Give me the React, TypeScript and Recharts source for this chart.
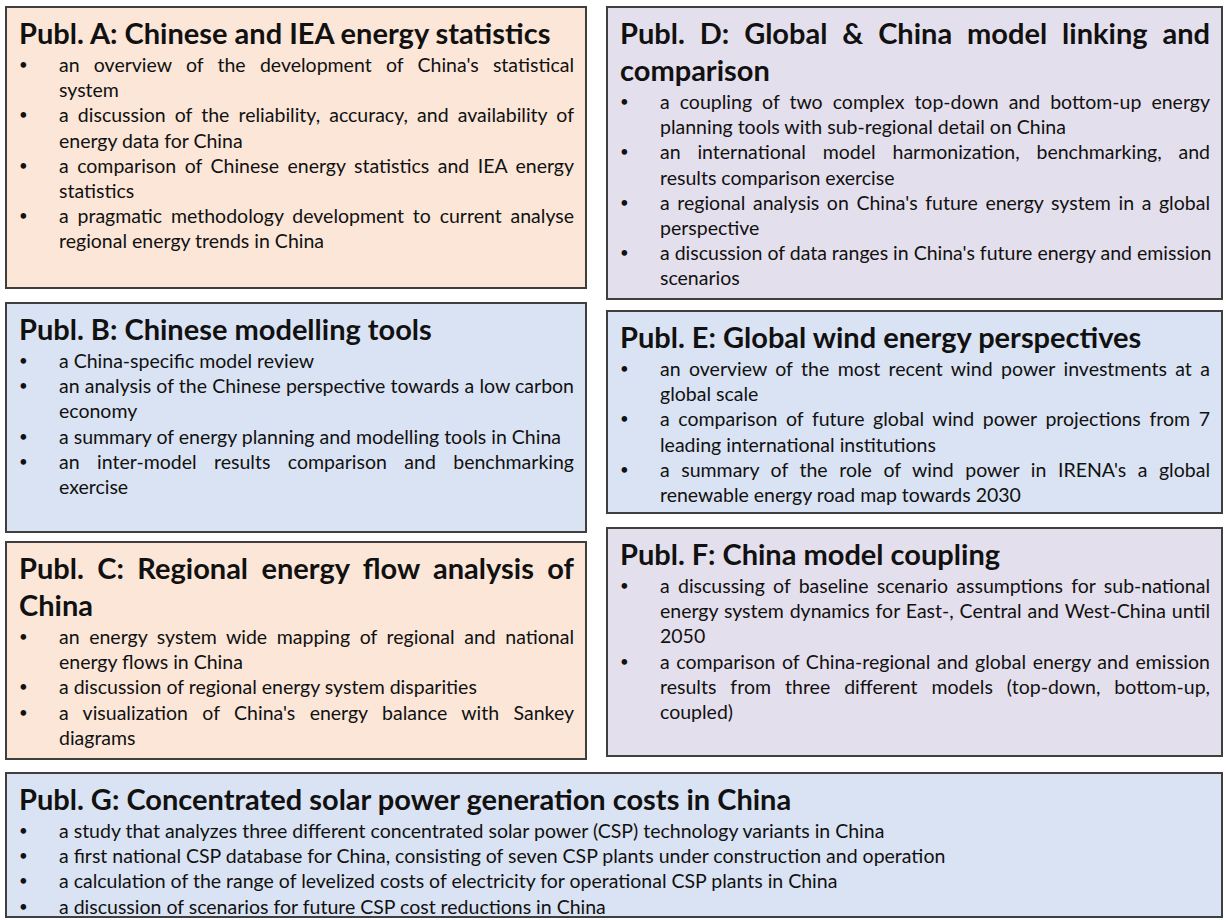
import React from 'react';
import { ComposedChart, XAxis, YAxis, ReferenceArea } from 'recharts';

// panel content, one entry per publication box
const panelKeys = ['A', 'B', 'C', 'D', 'E', 'F', 'G'];

const panelTitles: string[][] = [
  ['Publ. A: Chinese and IEA energy statistics'],
  ['Publ. B: Chinese modelling tools'],
  ['Publ. C: Regional energy flow analysis of', 'China'],
  ['Publ. D: Global & China model linking and', 'comparison'],
  ['Publ. E: Global wind energy perspectives'],
  ['Publ. F: China model coupling'],
  ['Publ. G: Concentrated solar power generation costs in China'],
];

// each bullet keeps the line breaks of the original
const panelBullets: string[][][] = [
  [
    ["an overview of the development of China's statistical", 'system'],
    ['a discussion of the reliability, accuracy, and availability of', 'energy data for China'],
    ['a comparison of Chinese energy statistics and IEA energy', 'statistics'],
    ['a pragmatic methodology development to current analyse', 'regional energy trends in China'],
  ],
  [
    ['a China-specific model review'],
    ['an analysis of the Chinese perspective towards a low carbon', 'economy'],
    ['a summary of energy planning and modelling tools in China'],
    ['an inter-model results comparison and benchmarking', 'exercise'],
  ],
  [
    ['an energy system wide mapping of regional and national', 'energy flows in China'],
    ['a discussion of regional energy system disparities'],
    ["a visualization of China's energy balance with Sankey", 'diagrams'],
  ],
  [
    ['a coupling of two complex top-down and bottom-up energy', 'planning tools with sub-regional detail on China'],
    ['an international model harmonization, benchmarking, and', 'results comparison exercise'],
    ["a regional analysis on China's future energy system in a global", 'perspective'],
    ["a discussion of data ranges in China's future energy and emission", 'scenarios'],
  ],
  [
    ['an overview of the most recent wind power investments at a', 'global scale'],
    ['a comparison of future global wind power projections from 7', 'leading international institutions'],
    ["a summary of the role of wind power in IRENA's a global", 'renewable energy road map towards 2030'],
  ],
  [
    [
      'a discussing of baseline scenario assumptions for sub-national',
      'energy system dynamics for East-, Central and West-China until',
      '2050',
    ],
    [
      'a comparison of China-regional and global energy and emission',
      'results from three different models (top-down, bottom-up,',
      'coupled)',
    ],
  ],
  [
    ['a study that analyzes three different concentrated solar power (CSP) technology variants in China'],
    ['a first national CSP database for China, consisting of seven CSP plants under construction and operation'],
    ['a calculation of the range of levelized costs of electricity for operational CSP plants in China'],
    ['a discussion of scenarios for future CSP cost reductions in China'],
  ],
];

// layout (page pixels) and fills, kept apart from the content
const frames = [
  { x1: 6, x2: 586, y1: 7, y2: 288 },
  { x1: 6, x2: 586, y1: 303, y2: 532 },
  { x1: 6, x2: 586, y1: 542, y2: 759 },
  { x1: 607, x2: 1222, y1: 7, y2: 299 },
  { x1: 607, x2: 1222, y1: 311, y2: 513 },
  { x1: 607, x2: 1222, y1: 528, y2: 756 },
  { x1: 6, x2: 1222, y1: 773, y2: 917 },
];

const PEACH = '#FBE6D8';
const BLUE = '#DAE3F3';
const LILAC = '#E4DFEC';
const panelFills = [PEACH, BLUE, PEACH, LILAC, BLUE, LILAC, BLUE];

const FONT = 'Lato, "Open Sans", sans-serif';
const BODY = 19.5;
const LINE = '25.2px';

function PanelText({ viewBox, panel }: { viewBox: any; panel: number }) {
  const { x, y, width, height } = viewBox;
  const title = panelTitles[panel];
  const bullets = panelBullets[panel];
  return (
    <foreignObject x={x} y={y} width={width} height={height}>
      <div
        style={{
          fontFamily: FONT,
          color: '#111',
          padding: '7px 12px 0 13px',
          boxSizing: 'border-box',
          width: '100%',
        }}
      >
        {title.map((t, i) => (
          <div
            key={i}
            style={{
              fontSize: 29,
              fontWeight: 700,
              lineHeight: '37px',
              whiteSpace: 'nowrap',
              textAlign: 'justify',
              textAlignLast: i < title.length - 1 ? 'justify' : 'left',
            }}
          >
            {t}
          </div>
        ))}
        <div style={{ marginTop: 1 }}>
          {bullets.map((lines, b) => (
            <div key={b} style={{ position: 'relative', paddingLeft: 40 }}>
              <span
                style={{ position: 'absolute', left: 0, top: 0, fontSize: 15, lineHeight: LINE }}
              >
                •
              </span>
              {lines.map((ln, j) => (
                <div
                  key={j}
                  style={{
                    fontSize: BODY,
                    lineHeight: LINE,
                    whiteSpace: 'nowrap',
                    textAlign: 'justify',
                    textAlignLast: j < lines.length - 1 ? 'justify' : 'left',
                  }}
                >
                  {ln}
                </div>
              ))}
            </div>
          ))}
        </div>
      </div>
    </foreignObject>
  );
}

export default function App() {
  return (
    <div style={{ position: 'absolute', left: 0, top: 0, width: 1226, height: 920, background: '#fff' }}>
      <ComposedChart width={1226} height={920} data={[]} margin={{ top: 0, right: 0, bottom: 0, left: 0 }}>
        <XAxis type="number" dataKey="x" domain={[0, 1226]} allowDataOverflow hide />
        <YAxis type="number" dataKey="y" domain={[0, 920]} allowDataOverflow reversed hide />
        {panelKeys.map((k, i) => (
          <ReferenceArea
            key={k}
            x1={frames[i].x1}
            x2={frames[i].x2}
            y1={frames[i].y1}
            y2={frames[i].y2}
            fill={panelFills[i]}
            fillOpacity={1}
            stroke="#3F3F3F"
            strokeWidth={2}
            label={(p: any) => <PanelText viewBox={p.viewBox} panel={i} />}
          />
        ))}
      </ComposedChart>
    </div>
  );
}
